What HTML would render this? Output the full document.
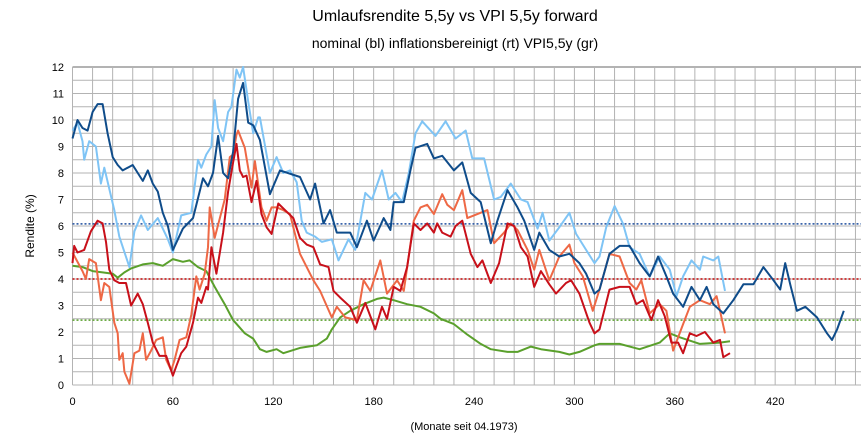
<!DOCTYPE html>
<html><head><meta charset="utf-8"><style>
body{margin:0;background:#fff;}
svg{display:block;font-family:"Liberation Sans",Arial,sans-serif;}
</style></head><body>
<svg id="chart" width="861" height="442" viewBox="0 0 861 442" xmlns="http://www.w3.org/2000/svg">
<text x="455" y="21" font-size="16" text-anchor="middle" fill="#000">Umlaufsrendite 5,5y vs VPI 5,5y forward</text>
<text x="455" y="48" font-size="14" text-anchor="middle" fill="#000">nominal (bl)  inflationsbereinigt (rt) VPI5,5y (gr)</text>
<text transform="translate(34,226) rotate(-90)" font-size="12" text-anchor="middle" fill="#000">Rendite (%)</text>
<text x="464" y="430" font-size="11" text-anchor="middle" fill="#000">(Monate seit 04.1973)</text>
<g id="grid"></g>
<g id="ticks"></g>
<g id="series"></g>
</svg>
<script>
const yTicks=[0,1,2,3,4,5,6,7,8,9,10,11,12];
const xTicks=[0,60,120,180,240,300,360,420];
const refLevels=[6.08,4.0,2.45];
const nomM=[0,3,6,9,12,15,18,21,24,27,30,36,42,45,48,51,54,57,60,66,72,78,81,84,87,90,93,96,99,102,105,108,112,118,124,136,142,145,150,154,158,166,170,176,180,186,190,192,198,202,205,212,216,221,228,233,238,244,250,254,260,266,270,276,279,285,291,297,303,307,312,315,321,327,333,339,345,350,355,359,365,370,375,379,383,389,395,401,407,413,419,423,426,429,433,438,445,451,454,457,461];
const nomV=[9.3,10,9.7,9.6,10.3,10.6,10.6,9.5,8.6,8.3,8.1,8.3,7.7,8.1,7.6,7.3,6.5,6.0,5.1,5.9,6.3,7.8,7.5,8.0,9.4,8.0,7.8,8.8,10.8,11.4,9.9,9.8,9.25,7.2,8.1,7.85,7.0,7.6,6.1,6.6,5.75,5.75,5.2,6.2,5.45,6.3,5.85,6.9,6.9,8.1,8.95,9.1,8.55,8.65,8.1,8.4,7.25,6.9,5.35,6.2,7.35,6.7,6.2,5.1,5.75,5.1,4.85,4.95,4.6,4.2,3.45,3.6,4.95,5.25,5.25,4.6,4.1,4.85,4.1,3.45,2.95,3.7,3.2,3.7,3.05,2.7,3.2,3.8,3.8,4.45,3.95,3.6,4.6,3.8,2.8,2.95,2.55,1.95,1.7,2.1,2.8];
const nom2M=[0,3,6,7,10,14,17,19,22,25,28,34,37,41,45,51,57,60,65,71,75,77,80,83,85,87,90,93,95,98,100,102,105,108,111,112,118,122,126,130,134,137,140,145,149,155,159,165,169,175,179,185,189,193,197,201,205,209,217,223,229,235,239,246,252,256,262,268,272,278,281,285,291,297,301,307,312,315,319,324,329,333,339,345,351,357,361,365,370,375,377,383,386,390];
const nom2V=[9.6,9.9,9.2,8.5,9.2,9.0,7.6,8.2,7.4,6.6,5.6,4.45,5.8,6.4,5.85,6.3,5.5,5.0,6.4,6.5,8.5,8.2,8.7,9.0,10.75,9.7,9.2,10.3,10.5,11.9,11.6,12,10.7,9.5,10.1,10.1,8.0,8.6,8.0,8.1,7.65,6.2,5.75,5.6,5.4,5.5,4.7,5.5,5.1,7.25,7.0,8.1,7.0,7.25,6.9,8.0,9.5,9.95,9.4,9.95,9.3,9.6,8.55,8.55,7.0,7.1,7.6,7.0,6.9,5.9,6.5,5.45,5.95,6.5,5.7,5.1,4.6,4.85,5.95,6.75,6.1,5.2,4.95,4.1,4.85,4.35,3.35,4.1,4.7,4.35,4.85,4.7,4.85,3.55];
const realM=[0,1,3,7,11,15,18,20,22,25,28,32,35,39,42,45,48,52,56,60,62,65,68,72,75,77,80,81,83,86,90,93,96,98,100,102,104,107,110,113,116,119,123,127,132,136,140,144,148,153,156,160,166,170,175,181,185,188,192,196,200,204,208,212,216,218,221,226,229,233,238,242,245,250,255,260,264,268,272,276,280,285,289,295,298,303,309,312,315,321,327,333,337,341,346,350,354,358,362,365,369,373,378,383,387,389,393];
const realV=[4.6,5.25,5.0,5.1,5.8,6.2,6.1,5.4,4.35,3.95,3.85,3.85,3.0,3.45,3.05,2.35,1.6,1.1,1.1,0.35,0.7,1.2,1.45,2.35,3.3,3.1,3.7,3.6,5.2,4.2,5.75,7.3,8.4,9.1,8.1,7.85,7.9,6.9,7.7,6.45,5.95,5.7,6.85,6.6,6.3,5.55,5.3,5.2,4.55,4.45,3.55,3.3,2.95,2.35,3.1,2.1,2.95,2.5,3.7,3.55,4.45,6.1,5.85,6.1,5.75,6.1,5.75,5.6,6.0,6.2,4.95,4.45,4.7,3.85,4.6,6.1,6.0,5.2,4.85,3.7,4.3,3.8,3.45,3.85,3.95,3.45,2.35,1.95,2.1,3.6,3.7,3.7,3.05,3.2,2.45,3.2,2.6,1.6,1.6,1.2,1.95,1.85,2.0,1.6,1.7,1.05,1.2];
const real2M=[0,6,8,10,14,17,19,22,25,27,28,30,31,34,37,40,42,44,47,50,54,56,59,61,64,68,71,74,76,79,81,82,85,91,94,96,98,99,103,107,109,113,116,119,122,126,130,132,136,140,144,148,155,158,163,170,174,178,184,188,194,198,204,208,212,216,221,224,228,233,236,242,248,252,258,262,266,272,276,279,285,291,297,300,305,311,315,321,327,333,337,340,345,351,355,359,365,369,375,381,385,387,390];
const real2V=[5.0,4.3,4.0,4.75,4.6,3.2,3.85,3.7,2.35,1.95,0.95,1.2,0.5,0.05,1.2,1.3,1.95,0.95,1.3,1.7,1.8,0.95,0.55,0.95,1.7,1.8,2.65,4.1,3.6,4.2,5.2,6.7,5.55,7.0,8.6,8.7,9.45,9.6,8.95,7.45,8.45,6.7,6.2,6.7,6.7,6.6,6.45,5.95,4.95,4.45,3.95,3.55,2.55,2.95,2.55,2.45,3.95,3.55,4.7,3.45,3.95,3.55,6.2,6.7,6.8,6.45,7.2,6.8,6.6,7.35,6.3,6.45,6.6,5.35,5.75,6.1,5.85,5.1,4.35,5.1,3.95,4.85,5.3,4.6,4.1,2.8,3.6,4.95,4.85,3.85,3.6,3.95,2.7,3.05,2.8,1.3,2.3,2.95,3.2,3.05,3.35,2.8,1.95];
const cpiM=[0,6,12,18,24,27,31,35,42,48,54,60,66,70,75,80,85,91,96,103,108,112,116,122,126,136,146,152,155,160,166,174,182,186,192,200,208,216,220,228,236,244,250,260,266,274,280,291,297,303,312,315,327,339,351,357,363,375,387,393];
const cpiV=[4.5,4.45,4.3,4.25,4.2,4.05,4.25,4.4,4.55,4.6,4.5,4.75,4.65,4.7,4.45,4.3,3.7,3.05,2.45,1.95,1.75,1.35,1.25,1.35,1.2,1.4,1.5,1.75,2.1,2.55,2.8,3.05,3.25,3.3,3.2,3.05,2.95,2.7,2.5,2.3,1.9,1.55,1.35,1.25,1.25,1.45,1.35,1.25,1.15,1.25,1.5,1.55,1.55,1.35,1.6,1.95,1.8,1.55,1.6,1.65];

const NS='http://www.w3.org/2000/svg';
const X0=72.5,PX=1.673,Y0=385,PY=26.5,XR=861;
const xs=m=>X0+m*PX, ys=v=>Y0-v*PY;
function mk(tag,attrs,parent){const e=document.createElementNS(NS,tag);for(const k in attrs)e.setAttribute(k,attrs[k]);parent.appendChild(e);return e;}
const grid=document.getElementById('grid'),ticks=document.getElementById('ticks'),ser=document.getElementById('series');
for(let v=0;v<=12;v+=0.5){const l=mk('line',{x1:X0,x2:XR,y1:ys(v),y2:ys(v),stroke:'#b3b3b3','stroke-width':v===12?2:1},grid);

}
for(let m=0;m*PX+X0<=XR;m+=12){const l=mk('line',{x1:xs(m),x2:xs(m),y1:ys(12),y2:ys(0),stroke:'#b3b3b3','stroke-width':1},grid);

}
yTicks.forEach(v=>{const t=mk('text',{x:64,y:ys(v)+4,'font-size':11,'text-anchor':'end',fill:'#000'},ticks);t.textContent=v;

});
xTicks.forEach(m=>{const t=mk('text',{x:xs(m),y:405,'font-size':11,'text-anchor':'middle',fill:'#000'},ticks);t.textContent=m;

});
const refColors=['#1f4e9e','#c00000','#5aa02c'];
refLevels.forEach((v,i)=>{const l=mk('line',{x1:X0,x2:XR,y1:ys(v),y2:ys(v),stroke:refColors[i],'stroke-width':1.5,'stroke-dasharray':'2,2'},ser);

});
function line(M,V,color,name){const d=M.map((m,i)=>(i?'L':'M')+xs(m).toFixed(1)+','+ys(V[i]).toFixed(1)).join('');
const p=mk('path',{d:d,fill:'none',stroke:color,'stroke-width':2,'stroke-linejoin':'round'},ser);

}
line(cpiM,cpiV,'#5aa02c','cpi-forward-line');
line(nom2M,nom2V,'#7fc4f5','nominal-light-line');
line(real2M,real2V,'#ee6845','real-orange-line');
line(nomM,nomV,'#0f4c8a','nominal-line');
line(realM,realV,'#c8101a','real-line');
</script>
</body></html>
